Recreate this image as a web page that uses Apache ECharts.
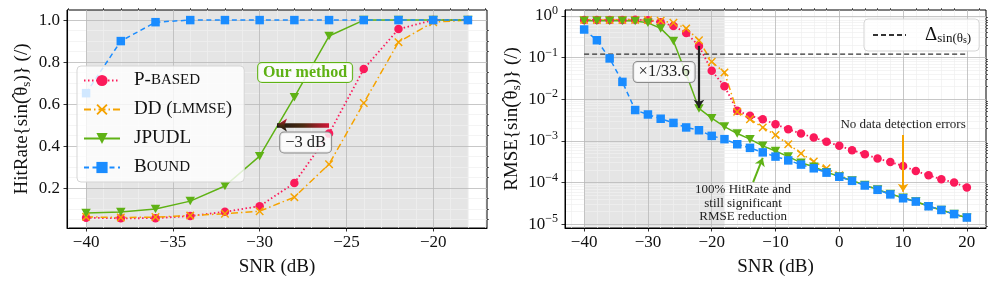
<!DOCTYPE html>
<html><head><meta charset="utf-8">
<script src="https://cdn.jsdelivr.net/npm/echarts@6/dist/echarts.min.js"></script>
<style>html,body{margin:0;padding:0;background:#fff}#c{width:996px;height:285px}</style>
</head><body><div id="c"></div>
<script>
// ---------------- DATA ----------------
const snrLeft = [-40,-38,-36,-34,-32,-30,-28,-26,-24,-22,-20,-18];
const hitPBased = [0.059,0.056,0.057,0.067,0.087,0.114,0.224,0.46,0.767,0.957,1.0,1.0];
const hitDD     = [0.063,0.060,0.062,0.069,0.078,0.090,0.157,0.314,0.605,0.895,0.99,1.0];
const hitJPUDL  = [0.081,0.086,0.100,0.138,0.210,0.352,0.633,0.924,1.0,1.0,1.0,1.0];
const hitBound  = [0.652,0.900,0.990,1.0,1.0,1.0,1.0,1.0,1.0,1.0,1.0,1.0];

const snrRight = [-40,-38,-36,-34,-32,-30,-28,-26,-24,-22,-20,-18,-16,-14,-12,-10,-8,-6,-4,-2,0,2,4,6,8,10,12,14,16,18,20];
const rmsePBased = [0.80,0.80,0.80,0.80,0.81,0.78,0.70,0.57,0.39,0.19,0.048,0.0205,0.0053,0.0040,0.0033,0.0025,0.0019,0.0015,0.0012,0.00095,0.00076,0.0006,0.00048,0.00038,0.00031,0.00025,0.00019,0.00015,0.00012,0.0001,0.000076];
const rmseDD     = [0.80,0.80,0.80,0.80,0.80,0.79,0.76,0.68,0.50,0.26,0.079,0.044,0.0050,0.0033,0.0021,0.00138,0.00083,0.0005,0.00032,0.00022,0.00015,0.000112,0.000087,0.000068,0.000053,0.000043,0.000035,0.000027,0.000022,0.0000175,0.0000145];
const rmseJPUDL  = [0.76,0.76,0.76,0.76,0.75,0.68,0.50,0.25,0.04,0.0060,0.0035,0.0022,0.0015,0.0011,0.00076,0.00057,0.00042,0.0003,0.00024,0.000178,0.00014,0.000112,0.000087,0.000068,0.000053,0.000043,0.000035,0.000027,0.000022,0.0000175,0.0000143];
const rmseBound  = [0.47,0.26,0.095,0.026,0.0055,0.0043,0.0034,0.0027,0.0021,0.0018,0.00132,0.0011,0.00083,0.00068,0.00053,0.00042,0.00034,0.00027,0.00022,0.000173,0.000138,0.00011,0.000085,0.000067,0.000052,0.000042,0.000035,0.000027,0.000022,0.0000175,0.0000145];
const deltaX = [-40, 20];
const deltaY = [0.12, 0.12];

const shadeRange = [-40, -18];
const seriesNames = ['P-based','DD (LMMSE)','JPUDL','Bound'];

// tick values
const leftXTicks = [-40,-35,-30,-25,-20];
const leftYTicks = [0.2,0.4,0.6,0.8,1.0];
const rightXTicks = [-40,-30,-20,-10,0,10,20];
const rightYTicks = [1e-5,1e-4,1e-3,1e-2,1e-1,1];

// ---------------- STYLE / LAYOUT ----------------
const FONT = 'Liberation Serif';
const TXT = '#111';
const C = {p:'#fb1a5a', dd:'#f5a300', j:'#5fb215', b:'#1a8cff'};
const XMARK = 'path://M0,1.2L1.2,0L5,3.8L8.8,0L10,1.2L6.2,5L10,8.8L8.8,10L5,6.2L1.2,10L0,8.8L3.8,5Z';

const leftXMinor = []; for (let v=-41; v<=-17; v++) if (v%5!==0) leftXMinor.push(v);
const leftYMinor = []; for (let k=1; k<20; k++) if (k%4!==0) leftYMinor.push(Math.round(k*5)/100);
const rightXMinor = []; for (let v=-42; v<=22; v+=2) if (v%10!==0) rightXMinor.push(v);
const rightYMinor = [9e-6]; for (let e=-5; e<0; e++) for (let m=2; m<=9; m++) rightYMinor.push(+(m*Math.pow(10,e)).toPrecision(3));

const minus = v => String(v).replace('-', '\u2212');
const zip = (xs, ys) => xs.map((x,i)=>[x, ys[i]]);

const G = [{left:67, top:10, width:420, height:218}, {left:565, top:10, width:421, height:218}];
const xR = [[-41.1,-16.9],[-43,23]];
const yR = [[0.01,1.048],[Math.pow(10,-5.09),Math.pow(10,0.14)]];

function majorAxis(dim, grid, type, range, ticks, fmt, name, nameGap) {
  return {
    type, gridIndex:grid, min:range[0], max:range[1], z:1,
    axisLine:{show:true, onZero:false, lineStyle:{color:'#000', width:1}},
    axisTick:{show:true, customValues:ticks, length:3.5, lineStyle:{color:'#000', width:0.8}},
    axisLabel:{show:true, customValues:ticks, formatter:fmt, fontFamily:FONT, fontSize:17, color:TXT, margin:dim==='x'?6:7,
      rich:{b:{fontFamily:FONT, fontSize:17, color:TXT, lineHeight:22}, p:{fontFamily:FONT, fontSize:12, color:TXT, lineHeight:10, verticalAlign:'top'}}},
    splitLine:{show:true, lineStyle:{color:'#b9b9b9', width:0.8}},
    minorTick:{show:false}, minorSplitLine:{show:false},
    name, nameLocation:'middle', nameGap,
    nameTextStyle:{fontFamily:FONT, fontSize:19, color:TXT, lineHeight:22,
      rich:{s:{fontFamily:FONT, fontSize:13, color:TXT, lineHeight:7, verticalAlign:'bottom'},
            h:{fontFamily:FONT, fontSize:19, color:TXT, width:0.01, align:'left', padding:[0,0,0,2], lineHeight:4, verticalAlign:'top'}}}
  };
}
function minorAxis(grid, type, range, ticks) {
  return {
    type, gridIndex:grid, min:range[0], max:range[1], z:0,
    axisLine:{show:false, onZero:false},
    axisTick:{show:true, customValues:ticks, length:2, lineStyle:{color:'#000', width:0.6}},
    axisLabel:{show:false, customValues:ticks},
    splitLine:{show:true, lineStyle:{color:'#efefef', width:0.7}}
  };
}

const yNameL = 'HitRate{sin({h|\u02C6}\u03B8{s|s})} (/)';
const yNameR = 'RMSE{sin({h|\u02C6}\u03B8{s|s})} (/)';

const xAxis = [
  majorAxis('x',0,'value',xR[0],leftXTicks,v=>minus(v),'SNR (dB)',23),
  minorAxis(0,'value',xR[0],leftXMinor),
  majorAxis('x',1,'value',xR[1],rightXTicks,v=>minus(v),'SNR (dB)',23),
  minorAxis(1,'value',xR[1],rightXMinor)
];
const yAxis = [
  majorAxis('y',0,'value',yR[0],leftYTicks,v=>v.toFixed(1),yNameL,34),
  minorAxis(0,'value',yR[0],leftYMinor),
  majorAxis('y',1,'log',yR[1],rightYTicks,v=>'{b|10}{p|'+minus(Math.round(Math.log10(v)))+'}',yNameR,42),
  minorAxis(1,'log',yR[1],rightYMinor)
];
yAxis[2].logBase = 10; yAxis[3].logBase = 10;

function mkSeries(name, data, xi, yi, kind) {
  const base = {name, type:'line', data, xAxisIndex:xi, yAxisIndex:yi, z:3, silent:true, animation:false, symbolKeepAspect:true};
  if (kind==='p') return Object.assign(base,{symbol:'circle', symbolSize:8.5, itemStyle:{color:C.p}, lineStyle:{color:C.p, width:1.8, type:[1.5,2.5]}});
  if (kind==='dd') return Object.assign(base,{symbol:XMARK, symbolSize:8.5, itemStyle:{color:C.dd}, lineStyle:{color:C.dd, width:1.5, type:[7,3,1.5,3]}});
  if (kind==='j') return Object.assign(base,{symbol:'triangle', symbolRotate:180, symbolSize:[9.5,8.5], itemStyle:{color:C.j}, lineStyle:{color:C.j, width:1.5, type:'solid'}});
  return Object.assign(base,{symbol:'rect', symbolSize:8.5, itemStyle:{color:C.b}, lineStyle:{color:C.b, width:1.5, type:[5,3.5]}});
}

function textMark(coord, text, label) {
  return {coord, symbol:'rect', symbolSize:1, itemStyle:{color:'rgba(0,0,0,0)'},
    label:Object.assign({show:true, position:'inside', formatter:text, fontFamily:FONT, color:'#222'}, label)};
}

const boxLbl = {backgroundColor:'rgba(255,255,255,0.8)', borderColor:'#8a8a8a', borderWidth:1, borderRadius:4, padding:[2,5,1,5], fontSize:16.5};

const series = [
  // shading
  {type:'line', name:'shadeL', data:[], xAxisIndex:0, yAxisIndex:0, silent:true,
   markArea:{silent:true, z:-1, itemStyle:{color:'rgba(0,0,0,0.1)'}, data:[[{xAxis:shadeRange[0]},{xAxis:shadeRange[1]}]]}},
  {type:'line', name:'shadeR', data:[], xAxisIndex:2, yAxisIndex:2, silent:true,
   markArea:{silent:true, z:-1, itemStyle:{color:'rgba(0,0,0,0.1)'}, data:[[{xAxis:shadeRange[0]},{xAxis:shadeRange[1]}]]}},
  // left
  mkSeries(seriesNames[0], zip(snrLeft,hitPBased),0,0,'p'),
  mkSeries(seriesNames[1], zip(snrLeft,hitDD),0,0,'dd'),
  mkSeries(seriesNames[2], zip(snrLeft,hitJPUDL),0,0,'j'),
  mkSeries(seriesNames[3], zip(snrLeft,hitBound),0,0,'b'),
  // right
  mkSeries(seriesNames[0], zip(snrRight,rmsePBased),2,2,'p'),
  mkSeries(seriesNames[1], zip(snrRight,rmseDD),2,2,'dd'),
  mkSeries(seriesNames[2], zip(snrRight,rmseJPUDL),2,2,'j'),
  mkSeries(seriesNames[3], zip(snrRight,rmseBound),2,2,'b'),
  {name:'delta', type:'line', data:zip(deltaX,deltaY), xAxisIndex:2, yAxisIndex:2, symbol:'none', showSymbol:false, z:3, silent:true,
   lineStyle:{color:'#333', width:1.3, type:[5,3]}, itemStyle:{color:'#333'}},
  // annotations left
  {type:'line', name:'annoL', data:[], xAxisIndex:0, yAxisIndex:0, silent:true,
   markPoint:{silent:true, z:6, data:[
     textMark([-27.38,0.75],'Our method',{color:C.j, fontWeight:'bold', fontSize:16, backgroundColor:'rgba(255,255,255,0.85)', borderColor:C.j, borderWidth:1, borderRadius:4, padding:[2,5,1,5]}),
     textMark([-27.35,0.417],'\u22123 dB',boxLbl)
   ]},
   markLine:{silent:true, z:6, symbol:['none','arrow'], symbolSize:10, label:{show:false},
     lineStyle:{width:4.5, type:'solid', color:new echarts.graphic.LinearGradient(0,0,1,0,[{offset:0,color:'#151515'},{offset:0.5,color:'#4a2a10'},{offset:1,color:'#e0143c'}])},
     data:[[{coord:[-26,0.5]},{coord:[-29,0.5], itemStyle:{color:'#151515'}}]]}},
  // annotations right
  {type:'line', name:'annoR', data:[], xAxisIndex:2, yAxisIndex:2, silent:true,
   markPoint:{silent:true, z:6, data:[
     textMark([-27.46,0.0447],'\u00D71/33.6',boxLbl),
     textMark([10,0.0024],'No data detection errors',{fontSize:13}),
     textMark([-15.08,3.2e-5],'100% HitRate and\nstill significant\nRMSE reduction',{fontSize:13, lineHeight:13.5, align:'center'})
   ]},
   markLine:{silent:true, z:6, symbol:['none','arrow'], symbolSize:8, label:{show:false},
     data:[
       [{coord:[-22,0.19], lineStyle:{color:'#222', width:2.2, type:'solid'}},{coord:[-22,0.0062], itemStyle:{color:'#222'}}],
       [{coord:[10,0.00138], lineStyle:{color:C.dd, width:2, type:'solid'}},{coord:[10,0.00006], itemStyle:{color:C.dd}}],
       [{coord:[-13.5,0.000103], lineStyle:{color:C.j, width:2, type:'solid'}},{coord:[-12,0.00039], itemStyle:{color:C.j}}]
     ]}}
];

const legendRich = {
  n:{fontFamily:FONT, fontSize:19, color:TXT, lineHeight:18},
  sc:{fontFamily:FONT, fontSize:15, color:TXT, lineHeight:18}
};
const legendFmt = {
  'P-based':'{n|P-}{sc|BASED}',
  'DD (LMMSE)':'{n|DD (}{sc|LMMSE}{n|)}',
  'JPUDL':'{n|JPUDL}',
  'Bound':'{n|B}{sc|OUND}'
};

const option = {
  animation:false,
  grid:G.map(g=>Object.assign({show:true, borderColor:'#000', borderWidth:1, backgroundColor:'rgba(0,0,0,0)', containLabel:false}, g)),
  xAxis, yAxis, series,
  legend:[
    {data:seriesNames, orient:'vertical', left:77, top:66, itemWidth:36, itemHeight:14, itemGap:10,
     padding:[5,12,5,6], backgroundColor:'rgba(255,255,255,0.8)', borderColor:'#d5d5d5', borderWidth:1, borderRadius:4,
     selectedMode:false, formatter:n=>legendFmt[n],
     textStyle:{fontFamily:FONT, fontSize:19, color:TXT, padding:[0,0,0,9], rich:legendRich}},
    {data:[{name:'delta', itemStyle:{opacity:0}}], orient:'horizontal', left:864, top:19, itemWidth:33, itemHeight:12,
     padding:[6,8,6,8], backgroundColor:'rgba(255,255,255,0.8)', borderColor:'#d5d5d5', borderWidth:1, borderRadius:4,
     selectedMode:false, formatter:()=>'\u0394{s|sin(\u03B8}{ss|s}{s|)}',
     textStyle:{fontFamily:FONT, fontSize:19, color:TXT, padding:[0,0,0,14], lineHeight:20,
       rich:{s:{fontFamily:FONT, fontSize:13, color:TXT, lineHeight:8, verticalAlign:'bottom'},
             ss:{fontFamily:FONT, fontSize:10, color:TXT, lineHeight:3, verticalAlign:'bottom'}}}}
  ]
};

const chart = echarts.init(document.getElementById('c'), null, {renderer:'canvas'});
chart.setOption(option);
</script>
</body></html>
